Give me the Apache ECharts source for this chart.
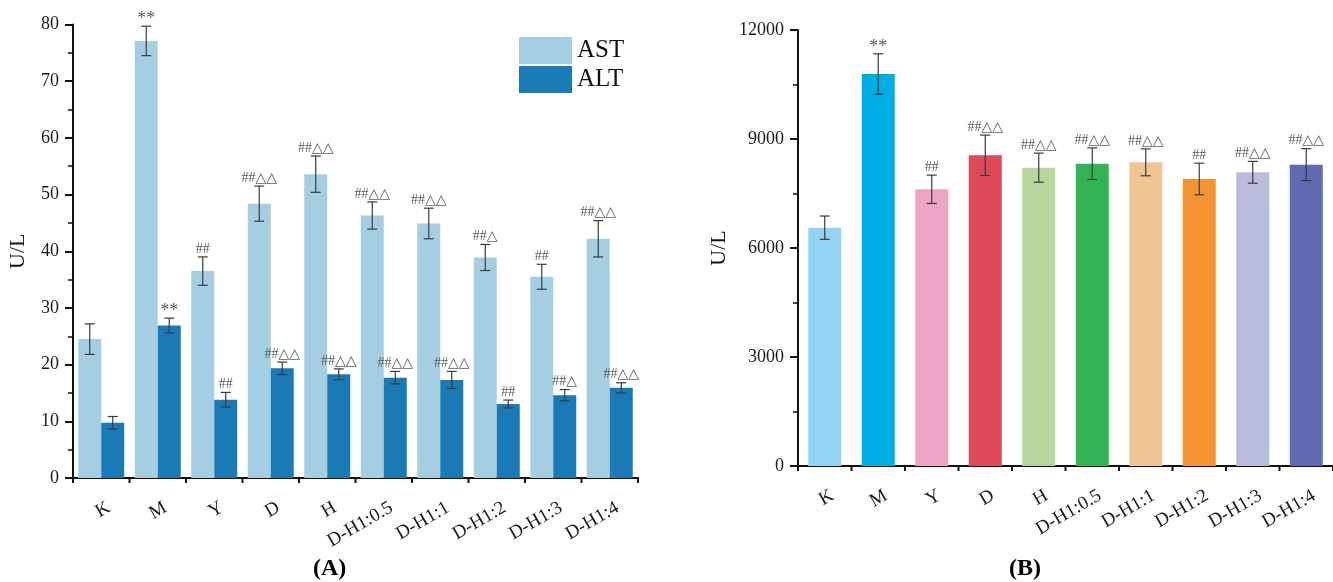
<!DOCTYPE html>
<html><head><meta charset="utf-8">
<script src="https://cdn.jsdelivr.net/npm/echarts@6/dist/echarts.min.js"></script>
<style>html,body{margin:0;padding:0;background:#fff}#c{width:1333px;height:582px}</style>
</head><body><div id="c"></div>
<script>
const categories = ['K','M','Y','D','H','D-H1:0.5','D-H1:1','D-H1:2','D-H1:3','D-H1:4'];
// Panel A
const astMean = [24.5, 77.1, 36.5, 48.4, 53.6, 46.3, 44.9, 38.9, 35.5, 42.2];
const astSD   = [2.7, 2.6, 2.5, 3.1, 3.2, 2.4, 2.7, 2.3, 2.2, 3.2];
const astSig  = ['', '**', '##', '##△△', '##△△', '##△△', '##△△', '##△', '##', '##△△'];
const altMean = [9.75, 26.9, 13.8, 19.35, 18.3, 17.7, 17.3, 13.05, 14.6, 15.9];
const altSD   = [1.1, 1.3, 1.3, 1.1, 0.95, 1.1, 1.5, 0.7, 1.0, 0.9];
const altSig  = ['', '**', '##', '##△△', '##△△', '##△△', '##△△', '##', '##△', '##△△'];
const yTicksA = [0, 10, 20, 30, 40, 50, 60, 70, 80];
// Panel B
const bMean = [6560, 10790, 7616, 8552, 8211, 8321, 8358, 7900, 8084, 8294];
const bSD   = [320, 555, 390, 555, 400, 435, 370, 435, 300, 440];
const bSig  = ['', '**', '##', '##△△', '##△△', '##△△', '##△△', '##', '##△△', '##△△'];
const yTicksB = [0, 3000, 6000, 9000, 12000];
const bColors = ['#93d4f4','#00aee6','#eea4c5','#dc4a5a','#b6d69e','#32b454','#efc592','#f69331','#b9bcdd','#6169b0'];

const serif = 'Liberation Serif';
const chart = echarts.init(document.getElementById('c'), null, {renderer:'canvas'});

function errSeries(name, means, sds, sigs, xAxisIndex, yAxisIndex, offFrac) {
  return {
    type: 'custom', name: name + '_err', xAxisIndex, yAxisIndex, z: 10, silent: true,
    data: means.map((v, i) => [i, v, sds[i]]),
    encode: {x: 0, y: 1},
    renderItem: function (params, api) {
      const i = api.value(0), v = api.value(1), s = api.value(2);
      const bw = api.size([1, 0])[0];
      const cx = api.coord([i, v])[0] + offFrac * bw;
      const yt = api.coord([i, v + s])[1];
      const yb = api.coord([i, v - s])[1];
      const st = {stroke: '#3a3a3a', lineWidth: 1.2};
      const children = [
        {type: 'line', shape: {x1: cx, y1: yt, x2: cx, y2: yb}, style: st},
        {type: 'line', shape: {x1: cx - 5, y1: yt, x2: cx + 5, y2: yt}, style: st},
        {type: 'line', shape: {x1: cx - 5, y1: yb, x2: cx + 5, y2: yb}, style: st}
      ];
      const lab = sigs[params.dataIndex];
      if (lab) {
        const star = lab === '**';
        children.push({type: 'text', style: {
          text: lab, x: cx, y: yt - (star ? -2 : 1), align: 'center', verticalAlign: 'bottom',
          fill: '#5a5a5a', font: (star ? '18px "Liberation Serif"' : '14px "Liberation Serif", "DejaVu Sans"')
        }});
      }
      return {type: 'group', children};
    }
  };
}

// short ticks at category boundaries, drawn through the axis scale
function boundaryTicks(xAxisIndex, yAxisIndex) {
  return {
    type: 'custom', xAxisIndex, yAxisIndex, z: 12, silent: true, clip: false,
    data: categories.map((c, i) => [i, 0]),
    encode: {x: 0, y: 1},
    renderItem: function (params, api) {
      const i = api.value(0);
      const bw = api.size([1, 0])[0];
      const p = api.coord([i, 0]);
      const st = {stroke: '#111', lineWidth: 2};
      const ch = [{type: 'line', shape: {x1: p[0] - bw / 2, y1: p[1], x2: p[0] - bw / 2, y2: p[1] + 5}, style: st}];
      if (i === categories.length - 1) {
        ch.push({type: 'line', shape: {x1: p[0] + bw / 2, y1: p[1], x2: p[0] + bw / 2, y2: p[1] + 5}, style: st});
      }
      return {type: 'group', children: ch};
    }
  };
}

const axisLabelStyle = {color: '#1a1a1a', fontFamily: serif, fontSize: 18};

const option = {
  backgroundColor: '#ffffff',
  animation: false,
  title: [
    {text: '(A)', left: 308, top: 552, textStyle: {fontFamily: serif, fontSize: 24, fontWeight: 'bold', color: '#000'}},
    {text: '(B)', left: 1004, top: 552, textStyle: {fontFamily: serif, fontSize: 24, fontWeight: 'bold', color: '#000'}}
  ],
  legend: {
    data: ['AST', 'ALT'], orient: 'vertical', left: 514, top: 32,
    icon: 'rect', itemWidth: 53, itemHeight: 27, itemGap: 2,
    textStyle: {fontFamily: serif, fontSize: 25, color: '#111'}
  },
  grid: [
    {left: 73, top: 24.5, width: 565, height: 453.5},
    {left: 798, top: 30, width: 540, height: 436}
  ],
  xAxis: [
    {type: 'category', gridIndex: 0, data: categories,
      axisLine: {lineStyle: {color: '#111', width: 2}},
      axisTick: {alignWithLabel: true, length: 8, lineStyle: {color: '#111', width: 2}},
      axisLabel: {...axisLabelStyle, fontSize: 19, rotate: 30, margin: 15, interval: 0,
        verticalAlign: 'top', padding: [6, 0, 0, 0]}},
    {type: 'category', gridIndex: 1, data: categories,
      axisLine: {lineStyle: {color: '#111', width: 2}},
      axisTick: {alignWithLabel: true, length: 8, lineStyle: {color: '#111', width: 2}},
      axisLabel: {...axisLabelStyle, fontSize: 19, rotate: 30, margin: 15, interval: 0,
        verticalAlign: 'top', padding: [6, 0, 0, 0]}}
  ],
  yAxis: [
    {type: 'value', gridIndex: 0, min: yTicksA[0], max: yTicksA[yTicksA.length - 1], interval: 10,
      name: 'U/L', nameLocation: 'middle', nameGap: 44, nameRotate: 90,
      nameTextStyle: {fontFamily: serif, fontSize: 22, color: '#111'},
      splitLine: {show: false},
      axisLine: {show: true, lineStyle: {color: '#111', width: 2}},
      axisTick: {show: true, length: 8, lineStyle: {color: '#111', width: 2}},
      minorTick: {show: true, splitNumber: 2, length: 5, lineStyle: {color: '#111', width: 1.5}},
      axisLabel: {...axisLabelStyle, margin: 14}},
    {type: 'value', gridIndex: 1, min: yTicksB[0], max: yTicksB[yTicksB.length - 1], interval: 3000,
      name: 'U/L', nameLocation: 'middle', nameGap: 68, nameRotate: 90,
      nameTextStyle: {fontFamily: serif, fontSize: 22, color: '#111'},
      splitLine: {show: false},
      axisLine: {show: true, lineStyle: {color: '#111', width: 2}},
      axisTick: {show: true, length: 8, lineStyle: {color: '#111', width: 2}},
      minorTick: {show: true, splitNumber: 2, length: 5, lineStyle: {color: '#111', width: 1.5}},
      axisLabel: {...axisLabelStyle, margin: 14, formatter: v => String(v)}}
  ],
  series: [
    {name: 'AST', type: 'bar', xAxisIndex: 0, yAxisIndex: 0, data: astMean, barWidth: 23, barGap: '0%',
      itemStyle: {color: '#a6cee3'}},
    {name: 'ALT', type: 'bar', xAxisIndex: 0, yAxisIndex: 0, data: altMean, barWidth: 23, barGap: '0%',
      itemStyle: {color: '#1a7ab5'}},
    errSeries('AST', astMean, astSD, astSig, 0, 0, -11.5 / 56.5),
    errSeries('ALT', altMean, altSD, altSig, 0, 0, 11.5 / 56.5),
    boundaryTicks(0, 0),
    {name: 'B', type: 'bar', xAxisIndex: 1, yAxisIndex: 1, barWidth: 33,
      data: bMean.map((v, i) => ({value: v, itemStyle: {color: bColors[i]}}))},
    errSeries('B', bMean, bSD, bSig, 1, 1, 0),
    boundaryTicks(1, 1)
  ]
};
chart.setOption(option);
</script></body></html>
